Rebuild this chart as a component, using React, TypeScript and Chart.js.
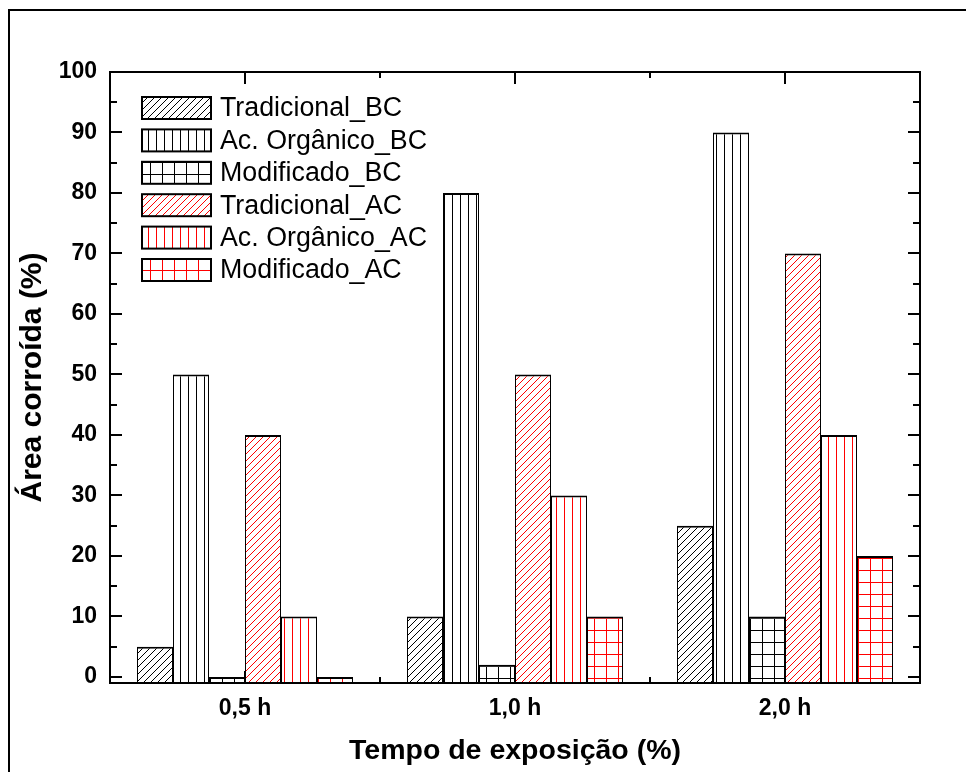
import React, { useEffect, useRef } from "react";
import { Chart, registerables } from "chart.js";

Chart.register(...registerables);

const categories = ["0,5 h", "1,0 h", "2,0 h"];
const seriesNames = [
  "Tradicional_BC",
  "Ac. Orgânico_BC",
  "Modificado_BC",
  "Tradicional_AC",
  "Ac. Orgânico_AC",
  "Modificado_AC",
];
const tradicionalBC = [5, 10, 25];
const acOrganicoBC = [50, 80, 90];
const modificadoBC = [0, 2, 10];
const tradicionalAC = [40, 50, 70];
const acOrganicoAC = [10, 30, 40];
const modificadoAC = [0, 10, 20];
const yTicks = [0, 10, 20, 30, 40, 50, 60, 70, 80, 90, 100];
const yMinorTicks = [5, 15, 25, 35, 45, 55, 65, 75, 85, 95];
const xTitle = "Tempo de exposição (%)";
const yTitle = "Área corroída (%)";

const FONT = "'Liberation Sans', Arial, Helvetica, sans-serif";

type Kind = "diag" | "vert" | "grid";

function makePattern(kind: Kind, color: string): CanvasPattern | string {
  const c = document.createElement("canvas");
  const s = kind === "diag" ? 7 : kind === "vert" ? 8 : 12;
  c.width = s;
  c.height = s;
  const g = c.getContext("2d");
  if (!g) return "#fff";
  g.fillStyle = "#fff";
  g.fillRect(0, 0, s, s);
  g.strokeStyle = color;
  g.lineWidth = 1;
  g.beginPath();
  if (kind === "diag") {
    g.moveTo(-1, s + 1);
    g.lineTo(s + 1, -1);
    g.moveTo(-2, 2);
    g.lineTo(2, -2);
    g.moveTo(s - 2, s + 2);
    g.lineTo(s + 2, s - 2);
  } else if (kind === "vert") {
    g.moveTo(4.5, 0);
    g.lineTo(4.5, s);
  } else {
    g.moveTo(6.5, 0);
    g.lineTo(6.5, s);
    g.moveTo(0, 6.5);
    g.lineTo(s, 6.5);
  }
  g.stroke();
  const ctx = document.createElement("canvas").getContext("2d");
  return ctx ? (ctx.createPattern(c, "repeat") as CanvasPattern) : "#fff";
}

export default function App() {
  const ref = useRef<HTMLCanvasElement | null>(null);

  useEffect(() => {
    const canvas = ref.current;
    if (!canvas) return;
    const kinds: Kind[] = ["diag", "vert", "grid", "diag", "vert", "grid"];
    const colors = ["#000", "#000", "#000", "#ff0000", "#ff0000", "#ff0000"];
    const values = [tradicionalBC, acOrganicoBC, modificadoBC, tradicionalAC, acOrganicoAC, modificadoAC];
    const patterns = kinds.map((k, i) => makePattern(k, colors[i]));

    const framePlugin = {
      id: "originFrame",
      afterDatasetsDraw(chart: any) {
        const { ctx, chartArea: a, scales } = chart;
        const y = scales.y;
        const x = scales.x;
        ctx.save();
        ctx.strokeStyle = "#000";
        ctx.lineWidth = 2;
        ctx.beginPath();
        ctx.rect(a.left, a.top, a.right - a.left, a.bottom - a.top);
        ctx.stroke();
        ctx.beginPath();
        yTicks.forEach((v) => {
          const py = Math.round(y.getPixelForValue(v));
          ctx.moveTo(a.left, py);
          ctx.lineTo(a.left + 12, py);
          ctx.moveTo(a.right, py);
          ctx.lineTo(a.right - 12, py);
        });
        yMinorTicks.forEach((v) => {
          const py = Math.round(y.getPixelForValue(v));
          ctx.moveTo(a.left, py);
          ctx.lineTo(a.left + 7, py);
          ctx.moveTo(a.right, py);
          ctx.lineTo(a.right - 7, py);
        });
        categories.forEach((_, i) => {
          const px = Math.round(x.getPixelForValue(i));
          ctx.moveTo(px, a.top);
          ctx.lineTo(px, a.top + 12);
          ctx.moveTo(px, a.bottom);
          ctx.lineTo(px, a.bottom - 12);
          if (i < categories.length - 1) {
            const mx = Math.round((x.getPixelForValue(i) + x.getPixelForValue(i + 1)) / 2);
            ctx.moveTo(mx, a.top);
            ctx.lineTo(mx, a.top + 6);
            ctx.moveTo(mx, a.bottom);
            ctx.lineTo(mx, a.bottom - 6);
          }
        });
        ctx.stroke();
        ctx.restore();
      },
      afterDraw(chart: any) {
        const { ctx, chartArea: a } = chart;
        ctx.save();
        // outer page border
        ctx.strokeStyle = "#000";
        ctx.lineWidth = 2;
        ctx.beginPath();
        ctx.moveTo(9, chart.height + 2);
        ctx.lineTo(9, 10);
        ctx.lineTo(chart.width + 2, 10);
        ctx.stroke();

        // legend
        seriesNames.forEach((name, i) => {
          const y0 = 97 + i * 32.4;
          ctx.fillStyle = patterns[i] as any;
          ctx.fillRect(142, y0, 69, 22);
          ctx.lineWidth = 2;
          ctx.strokeStyle = "#000";
          ctx.strokeRect(142, y0, 69, 22);
          ctx.fillStyle = "#000";
          ctx.font = `26.8px ${FONT}`;
          ctx.textAlign = "left";
          ctx.textBaseline = "middle";
          ctx.fillText(name, 220, y0 + 12);
        });

        // axis titles
        ctx.fillStyle = "#000";
        ctx.font = `bold 28.5px ${FONT}`;
        ctx.textAlign = "center";
        ctx.textBaseline = "middle";
        ctx.fillText(xTitle, (a.left + a.right) / 2, 751);
        ctx.font = `bold 30px ${FONT}`;
        ctx.translate(33, (a.top + a.bottom) / 2);
        ctx.rotate(-Math.PI / 2);
        ctx.fillText(yTitle, 0, 0);
        ctx.restore();
      },
    };

    const chart = new Chart(canvas, {
      type: "bar",
      data: {
        labels: categories,
        datasets: seriesNames.map((name, i) => ({
          label: name,
          data: values[i],
          backgroundColor: patterns[i] as any,
          borderColor: "#000",
          borderWidth: { top: 2, left: 1, right: 1, bottom: 1 },
          borderSkipped: false,
          base: -1,
          categoryPercentage: 0.8,
          barPercentage: 1.0,
        })) as any,
      },
      options: {
        responsive: false,
        animation: false,
        devicePixelRatio: 1,
        layout: { padding: { left: 0, top: 72, right: 46, bottom: 0 } },
        plugins: {
          legend: { display: false },
          tooltip: { enabled: false },
        },
        scales: {
          x: {
            type: "category",
            offset: true,
            grid: { display: false, drawTicks: false },
            border: { display: false },
            ticks: {
              color: "#000",
              font: { family: FONT, size: 23, weight: "bold" },
              padding: 12,
              maxRotation: 0,
            },
            afterFit: (s: any) => {
              s.height = 89;
            },
          },
          y: {
            min: -1,
            max: 100,
            grid: { display: false, drawTicks: false },
            border: { display: false },
            ticks: {
              color: "#000",
              font: { family: FONT, size: 23, weight: "bold" },
              padding: 13,
            },
            afterBuildTicks: (s: any) => {
              s.ticks = yTicks.map((v) => ({ value: v }));
            },
            afterFit: (s: any) => {
              s.width = 110;
            },
          },
        },
      } as any,
      plugins: [framePlugin],
    });
    return () => chart.destroy();
  }, []);

  return (
    <div style={{ position: "absolute", left: 0, top: 0, width: 966, height: 772, background: "#fff" }}>
      <canvas ref={ref} width={966} height={772} style={{ display: "block" }} />
    </div>
  );
}
